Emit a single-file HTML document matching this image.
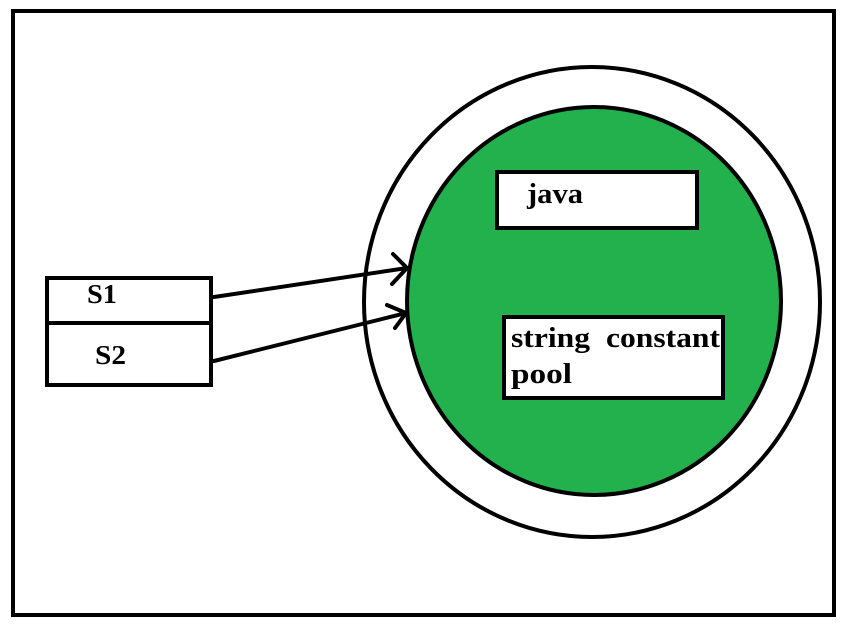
<!DOCTYPE html>
<html><head><meta charset="utf-8"><style>
html,body{margin:0;padding:0;background:#fff;}
svg{display:block;}
text{font-family:"Liberation Serif",serif;font-weight:bold;fill:#000;}
</style></head><body>
<svg width="845" height="626" viewBox="0 0 845 626">
<rect x="0" y="0" width="845" height="626" fill="#fff"/>
<rect x="13" y="11" width="821" height="604" fill="none" stroke="#000" stroke-width="4"/>
<ellipse cx="592" cy="302" rx="228" ry="235" fill="#fff" stroke="#000" stroke-width="4"/>
<ellipse cx="594" cy="301" rx="187" ry="194" fill="#22b14c" stroke="#000" stroke-width="4"/>
<rect x="497" y="172" width="200" height="56" fill="#fff" stroke="#000" stroke-width="4"/>
<text x="527" y="203" font-size="28" textLength="56" lengthAdjust="spacingAndGlyphs">java</text>
<rect x="504" y="317" width="219" height="81" fill="#fff" stroke="#000" stroke-width="4"/>
<text x="511" y="347" font-size="28" textLength="79" lengthAdjust="spacingAndGlyphs">string</text>
<text x="606" y="347" font-size="28" textLength="114" lengthAdjust="spacingAndGlyphs">constant</text>
<text x="511" y="383" font-size="28" textLength="61" lengthAdjust="spacingAndGlyphs">pool</text>
<rect x="47" y="278" width="164" height="107" fill="#fff" stroke="#000" stroke-width="4"/>
<line x1="47" y1="323" x2="211" y2="323" stroke="#000" stroke-width="4"/>
<text x="87" y="303" font-size="27" textLength="30" lengthAdjust="spacingAndGlyphs">S1</text>
<text x="95" y="364" font-size="27" textLength="31" lengthAdjust="spacingAndGlyphs">S2</text>
<g stroke="#000" stroke-width="4" fill="none" stroke-linecap="round">
<line x1="214" y1="297" x2="407" y2="268"/>
<polyline points="393,254 407,268 392,284"/>
<line x1="214" y1="361" x2="406" y2="313"/>
<polyline points="387,305 406,313 395,328"/>
</g>
</svg>
</body></html>
